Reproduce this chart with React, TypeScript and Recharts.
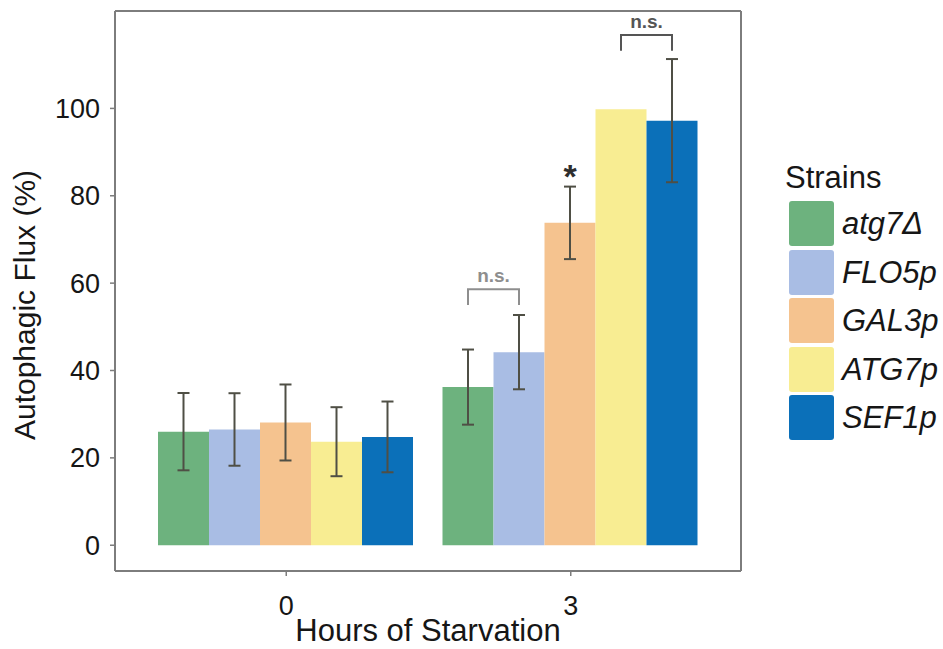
import { BarChart, Bar, XAxis, YAxis, ErrorBar, LabelList, Label, CartesianGrid } from "recharts";

const HOURS = ["0", "3"];
const STRAINS = ["atg7Δ", "FLO5p", "GAL3p", "ATG7p", "SEF1p"];
const COLORS = ["#6db27e", "#a9bde4", "#f5c38f", "#f8ed92", "#0b70b9"];

// mean flux per strain, at 0 h and 3 h
const ATG7D = [26.0, 36.2];
const FLO5P = [26.5, 44.2];
const GAL3P = [28.1, 73.8];
const ATG7P = [23.7, 99.8];
const SEF1P = [24.8, 97.2];

// +/- error
const ATG7D_ERR = [8.85, 8.6];
const FLO5P_ERR = [8.3, 8.5];
const GAL3P_ERR = [8.7, 8.3];
const ATG7P_ERR = [7.9, 0];
const SEF1P_ERR = [8.1, 14.1];

const Y_TICKS = [0, 20, 40, 60, 80, 100];
const Y_DOMAIN = [-5.9, 122.3];

// significance marks (3 h only): bar they sit on, text, level in axis units
const MARK_BARS = ["FLO5p", "GAL3p", "SEF1p"];
const MARK_TEXT = ["n.s.", "*", "n.s."];
const MARK_LEVEL = [58.6, 86, 116.8];
const MARK_COLOR = ["#8e8e8e", "#2e2e2e", "#555555"];

const VALUES = [ATG7D, FLO5P, GAL3P, ATG7P, SEF1P];
const ERRORS = [ATG7D_ERR, FLO5P_ERR, GAL3P_ERR, ATG7P_ERR, SEF1P_ERR];

const rows = HOURS.map((h, i) => {
  const r: Record<string, string | number> = { hour: h };
  STRAINS.forEach((s, j) => {
    r[s] = VALUES[j][i];
    r[s + "_err"] = ERRORS[j][i];
    const m = MARK_BARS.indexOf(s);
    r[s + "_mark"] = m >= 0 && i === 1 ? MARK_TEXT[m] : "";
  });
  return r;
});

const FONT = "'Liberation Sans', Arial, Helvetica, sans-serif";
const TEXT = "#161616";
const FRAME = "#7d7d7d";

function markContent(m: number) {
  return (p: any) => {
    if (!p.value) return null;
    const vb = p.viewBox ?? p;
    const x = Number(vb.x);
    const y = Number(vb.y);
    const w = Number(vb.width);
    const h = Number(vb.height);
    const j = STRAINS.indexOf(MARK_BARS[m]);
    const ppu = h / VALUES[j][1];
    const base = y + h;
    const ly = base - MARK_LEVEL[m] * ppu;
    const color = MARK_COLOR[m];
    if (p.value === "*") {
      const fs = 34;
      return (
        <text x={x + w / 2} y={ly + fs * 0.55} textAnchor="middle" fontSize={fs} fontWeight="bold" fill={color} fontFamily={FONT}>
          {p.value}
        </text>
      );
    }
    const x1 = x - w / 2;
    const x2 = x + w / 2;
    const drop = 3.6 * ppu;
    return (
      <g>
        <path d={`M${x1},${ly + drop}L${x1},${ly}L${x2},${ly}L${x2},${ly + drop}`} fill="none" stroke={color} strokeWidth={2} />
        <text x={(x1 + x2) / 2} y={ly - 7} textAnchor="middle" fontSize={19} fontWeight="bold" fill={color} fontFamily={FONT}>
          {p.value}
        </text>
      </g>
    );
  };
}

function YTitle(p: any) {
  const vb = p.viewBox;
  const cx = 24;
  const cy = vb.y + vb.height / 2 + 14;
  return (
    <text x={cx} y={cy} transform={`rotate(-90, ${cx}, ${cy})`} textAnchor="middle" dominantBaseline="central" fontSize={30} fill={TEXT} fontFamily={FONT}>
      Autophagic Flux (%)
    </text>
  );
}

function StrainLegend() {
  return (
    <div style={{ position: "absolute", left: 0, top: 0, fontFamily: FONT, color: TEXT }}>
      <div style={{ position: "absolute", left: 785, top: 162, fontSize: 31, lineHeight: "31px", whiteSpace: "nowrap" }}>Strains</div>
      {STRAINS.map((s, i) => {
        const top = 201 + i * 48.5;
        return (
          <div key={s}>
            <div style={{ position: "absolute", left: 789, top, width: 45, height: 45, background: COLORS[i], borderRadius: 3 }} />
            <div style={{ position: "absolute", left: 842, top: top + 22.5 - 15.2, fontSize: 31, lineHeight: "31px", fontStyle: "italic", whiteSpace: "nowrap" }}>
              {s}
            </div>
          </div>
        );
      })}
    </div>
  );
}

export default function App() {
  return (
    <div style={{ position: "absolute", left: 0, top: 0, width: 943, height: 649, background: "#fff" }}>
      <BarChart
        width={943}
        height={649}
        data={rows}
        margin={{ top: 11, right: 202, bottom: 0, left: 0 }}
        barCategoryGap={14}
        barGap={0}
        style={{ fontFamily: FONT }}
      >
        <CartesianGrid
          stroke={FRAME}
          strokeWidth={2}
          fill="none"
          horizontalCoordinatesGenerator={({ offset }: any) => [offset.top, offset.top + offset.height]}
          verticalCoordinatesGenerator={({ offset }: any) => [offset.left, offset.left + offset.width]}
        />
        <XAxis
          dataKey="hour"
          height={78}
          padding={{ left: 29, right: 28 }}
          axisLine={{ stroke: FRAME, strokeWidth: 2 }}
          tickLine={{ stroke: FRAME, strokeWidth: 1.5 }}
          tickSize={5}
          tickMargin={20}
          tick={{ fontSize: 27, fill: TEXT }}
        >
          <Label value="Hours of Starvation" position="insideBottom" offset={8} fontSize={31} fill={TEXT} />
        </XAxis>
        <YAxis
          width={115}
          domain={Y_DOMAIN}
          ticks={Y_TICKS}
          allowDataOverflow
          axisLine={{ stroke: FRAME, strokeWidth: 2 }}
          tickLine={{ stroke: FRAME, strokeWidth: 1.5 }}
          tickSize={5}
          tickMargin={10}
          tick={{ fontSize: 27, fill: TEXT }}
        >
          <Label content={YTitle} />
        </YAxis>
        {STRAINS.map((s, i) => {
          const m = MARK_BARS.indexOf(s);
          return (
            <Bar key={s} dataKey={s} fill={COLORS[i]} isAnimationActive={false}>
              <ErrorBar dataKey={s + "_err"} width={6} strokeWidth={2} stroke="#4f4f45" direction="y" />
              {m >= 0 && <LabelList dataKey={s + "_mark"} content={markContent(m)} />}
            </Bar>
          );
        })}
      </BarChart>
      <StrainLegend />
    </div>
  );
}
